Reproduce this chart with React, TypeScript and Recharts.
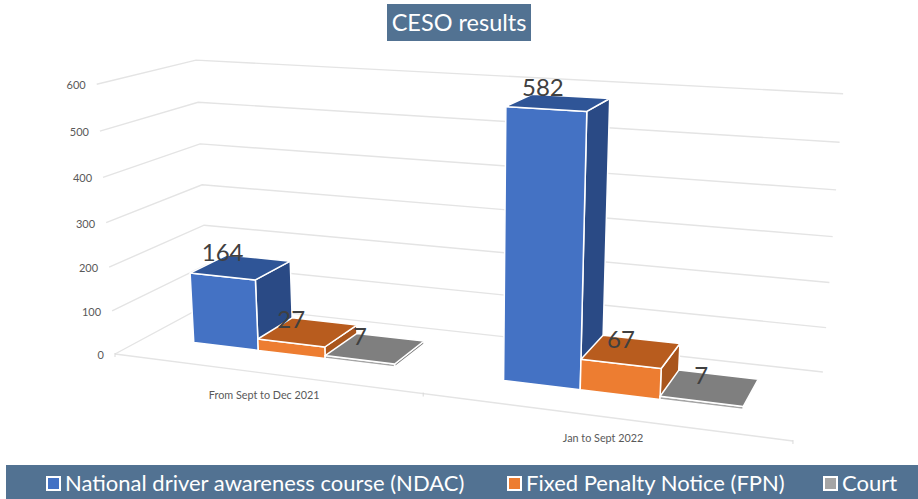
import { BarChart, Bar, XAxis, YAxis, CartesianGrid, LabelList } from 'recharts'

const categories = ['From Sept to Dec 2021', 'Jan to Sept 2022']
const ndac = [164, 582]
const fpn = [27, 67]
const court = [7, 7]
const yTicks = [0, 100, 200, 300, 400, 500, 600]

const seriesNames = ['National driver awareness course (NDAC)', 'Fixed Penalty Notice (FPN)', 'Court']

const data = categories.map((name, i) => ({ name, ndac: ndac[i], fpn: fpn[i], court: court[i] }))

const W = 918
const H = 499
const FONT = 'Lato, Carlito, sans-serif'
const BAND = '#527292'

// flat plot rect that recharts lays out, gets projected to the 3d box below
const PLOT = { left: 60, top: 20, width: 800, height: 400 }
const DEPTH_FRONT = 0.32
const DEPTH_BACK = 0.73

const toU = (x: number) => ((x - PLOT.left) / PLOT.width) * 1.005
const toV = (y: number) => (PLOT.top + PLOT.height - y) / PLOT.height

// camera fitted to the corners of the box: u along floor, v up, d into the page
function project(u: number, v: number, d: number) {
  const w = 1 - 0.1664 * u + 0.1106 * d - 0.05 * v
  return {
    x: (546 * u + 116 * d + 115 - 23.1 * v) / w,
    y: (13.6 * u - 16.4 * d + 354 + (-273.9 + 6.5 * u) * v) / w,
  }
}

const pts = (list: { x: number; y: number }[]) => list.map((p) => `${p.x.toFixed(1)},${p.y.toFixed(1)}`).join(' ')

function bar3d(front: string, top: string, side: string) {
  return (props: any) => {
    const { x, y, width, height } = props
    const u0 = toU(x)
    const u1 = toU(x + width)
    const v1 = toV(y)
    const v0 = toV(y + height)
    const f = DEPTH_FRONT
    const b = DEPTH_BACK
    const edge = { stroke: '#fff', strokeWidth: 1.5, strokeLinejoin: 'round' as const }
    return (
      <g>
        <polygon {...edge} fill={side} points={pts([project(u1, v0, f), project(u1, v0, b), project(u1, v1, b), project(u1, v1, f)])} />
        <polygon {...edge} fill={front} points={pts([project(u0, v0, f), project(u1, v0, f), project(u1, v1, f), project(u0, v1, f)])} />
        <polygon {...edge} fill={top} points={pts([project(u0, v1, f), project(u1, v1, f), project(u1, v1, b), project(u0, v1, b)])} />
      </g>
    )
  }
}

function barLabel(props: any) {
  const { x, y, width, value } = props
  const u = toU(x + width / 2)
  const v = toV(y)
  const p = project(u, v, (DEPTH_FRONT + DEPTH_BACK) / 2)
  // labels sit up and to the left of the top face, less so towards the right
  return (
    <text x={p.x - 20 + 13 * u - (v > 0.5 ? 4 : 0)} y={p.y - (v < 0.2 ? 3.5 : 6)} textAnchor="middle" fontSize={24} fontFamily={FONT} fill="#404040">
      {value}
    </text>
  )
}

function gridLine(props: any) {
  const v = toV(props.y1)
  const line = { stroke: '#e4e4e4', strokeWidth: 1.4, fill: 'none' }
  const wall = <polyline {...line} points={pts([project(0, v, 0), project(0, v, 1), project(1, v, 1)])} />
  if (v > 0.001) return <g key={props.key}>{wall}</g>
  const tick = (u: number) => {
    const p = project(u, 0, 0)
    return <line key={u} x1={p.x} y1={p.y - 1} x2={p.x} y2={p.y + 3} stroke="#d9d9d9" />
  }
  return (
    <g key={props.key}>
      {wall}
      <polyline {...line} points={pts([project(0, 0, 0), project(1, 0, 0)])} />
      {[0, 0.5, 1].map(tick)}
    </g>
  )
}

function YTick({ y, payload }: any) {
  const p = project(0, toV(y), 0)
  return (
    <text x={p.x - 11} y={p.y + 5} textAnchor="end" fontSize={11} fontFamily={FONT} fill="#595959">
      {payload.value}
    </text>
  )
}

function XTick({ x, payload }: any) {
  const p = project(toU(x), 0, 0)
  return (
    <text x={p.x + 1} y={p.y + 26} textAnchor="middle" fontSize={10.8} fontFamily={FONT} fill="#595959">
      {payload.value}
    </text>
  )
}

const legendItems = [
  { left: 46, color: '#4472c4' },
  { left: 507, color: '#ed7d31' },
  { left: 823, color: '#a5a5a5' },
]

export default function App() {
  return (
    <div style={{ position: 'fixed', left: 0, top: 0, width: W, height: H, background: '#fff', overflow: 'hidden', fontFamily: FONT }}>
      <div
        style={{
          position: 'absolute', left: 387, top: 4, width: 144, height: 37, background: BAND,
          color: '#fff', fontSize: 23.5, lineHeight: '37px', textAlign: 'center',
        }}
      >
        CESO results
      </div>

      <BarChart
        width={W}
        height={H}
        data={data}
        barGap={0}
        barCategoryGap="16.7%"
        margin={{ top: PLOT.top, left: PLOT.left - 40, right: W - PLOT.left - PLOT.width, bottom: H - PLOT.top - PLOT.height - 30 }}
      >
        <CartesianGrid vertical={false} horizontal={gridLine} />
        <XAxis dataKey="name" height={30} axisLine={false} tickLine={false} tick={<XTick />} interval={0} />
        <YAxis width={40} domain={[0, 600]} ticks={yTicks} axisLine={false} tickLine={false} tick={<YTick />} />
        <Bar dataKey="ndac" isAnimationActive={false} shape={bar3d('#4472c4', '#2f5597', '#2a4a85')}>
          <LabelList dataKey="ndac" content={barLabel} />
        </Bar>
        <Bar dataKey="fpn" isAnimationActive={false} shape={bar3d('#ed7d31', '#b85c1e', '#a9551c')}>
          <LabelList dataKey="fpn" content={barLabel} />
        </Bar>
        <Bar dataKey="court" isAnimationActive={false} shape={bar3d('#a5a5a5', '#7f7f7f', '#7f7f7f')}>
          <LabelList dataKey="court" content={barLabel} />
        </Bar>
      </BarChart>

      <div style={{ position: 'absolute', left: 6, top: 465, right: 0, bottom: 0, background: BAND }} />
      {legendItems.map((item, i) => (
        <div key={i} style={{ position: 'absolute', left: item.left, top: 465, height: 34, display: 'flex', alignItems: 'center', color: '#fff', fontSize: 22, whiteSpace: 'nowrap' }}>
          <span style={{ width: 11, height: 11, border: '2px solid #fff', background: item.color, marginRight: 4, marginTop: 3 }} />
          <span>{seriesNames[i]}</span>
        </div>
      ))}
    </div>
  )
}
